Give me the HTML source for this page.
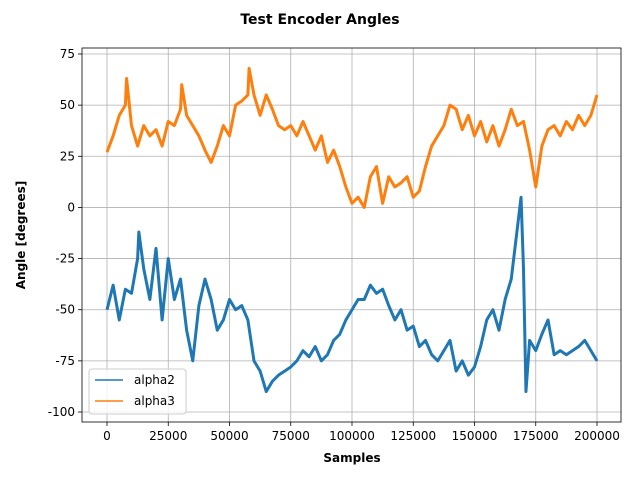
<!DOCTYPE html>
<html><head><meta charset="utf-8"><style>
body{margin:0;background:#fff;font-family:"Liberation Sans","DejaVu Sans",sans-serif}
svg text{font-family:"DejaVu Sans","Liberation Sans",sans-serif}
</style></head><body>
<svg id="chart" width="640" height="480" xmlns="http://www.w3.org/2000/svg"></svg>
<script>
const xTicks=[0,25000,50000,75000,100000,125000,150000,175000,200000];
const yTicks=[75,50,25,0,-25,-50,-75,-100];
const alpha3X=[0,2500,5000,7500,8000,10000,12500,15000,17500,20000,22500,25000,27500,30000,30500,32500,35000,37500,40000,42500,45000,47500,50000,52500,55000,57500,58000,60000,62500,65000,67500,70000,72500,75000,77500,80000,82500,85000,87500,90000,92500,95000,97500,100000,102500,105000,107500,110000,112500,115000,117500,120000,122500,125000,127500,130000,132500,135000,137500,140000,142500,145000,147500,150000,152500,155000,157500,160000,162500,165000,167500,170000,172500,175000,177500,180000,182500,185000,187500,190000,192500,195000,197500,200000];
const alpha3Y=[27,35,45,50,63,40,30,40,35,38,30,42,40,48,60,45,40,35,28,22,30,40,35,50,52,55,68,55,45,55,48,40,38,40,35,42,35,28,35,22,28,20,10,2,5,0,15,20,2,15,10,12,15,5,8,20,30,35,40,50,48,38,45,35,42,32,40,30,38,48,40,42,28,10,30,38,40,35,42,38,45,40,45,55];
const alpha2X=[0,2500,5000,7500,10000,12500,13000,15000,17500,20000,22500,25000,27500,30000,32500,35000,37500,40000,42500,45000,47500,50000,52500,55000,57500,60000,62500,65000,67500,70000,72500,75000,77500,80000,82500,85000,87500,90000,92500,95000,97500,100000,102500,105000,107500,110000,112500,115000,117500,120000,122500,125000,127500,130000,132500,135000,137500,140000,142500,145000,147500,150000,152500,155000,157500,160000,162500,165000,167500,169000,170000,171000,172500,175000,177500,180000,182500,185000,187500,190000,192500,195000,197500,200000];
const alpha2Y=[-50,-38,-55,-40,-42,-25,-12,-30,-45,-20,-55,-25,-45,-35,-60,-75,-48,-35,-45,-60,-55,-45,-50,-48,-55,-75,-80,-90,-85,-82,-80,-78,-75,-70,-73,-68,-75,-72,-65,-62,-55,-50,-45,-45,-38,-42,-40,-48,-55,-50,-60,-58,-68,-65,-72,-75,-70,-65,-80,-75,-82,-78,-68,-55,-50,-60,-45,-35,-10,5,-30,-90,-65,-70,-62,-55,-72,-70,-72,-70,-68,-65,-70,-75];
const NS="http://www.w3.org/2000/svg";
const svg=document.getElementById('chart');
const L=82,T=48,R=621,B=422;
const sx=v=>107+v*490/200000;
const sy=v=>54+(75-v)*358/175;
function mk(tag,attrs,parent){const e=document.createElementNS(NS,tag);for(const k in attrs)e.setAttribute(k,attrs[k]);(parent||svg).appendChild(e);return e;}
xTicks.forEach(v=>{
 const g=mk('line',{x1:sx(v),x2:sx(v),y1:T,y2:B,stroke:'#b0b0b0','stroke-width':0.8});
 
 
 mk('line',{x1:sx(v),x2:sx(v),y1:B,y2:B+4,stroke:'#000','stroke-width':0.8});
 const lb=mk('text',{x:sx(v),y:B+18,'text-anchor':'middle','font-size':'12'});
 lb.textContent=String(v);
 
 
});
yTicks.forEach(v=>{
 const g=mk('line',{x1:L,x2:R,y1:sy(v),y2:sy(v),stroke:'#b0b0b0','stroke-width':0.8});
 
 
 mk('line',{x1:L-4,x2:L,y1:sy(v),y2:sy(v),stroke:'#000','stroke-width':0.8});
 const lb=mk('text',{x:L-7,y:sy(v)+4,'text-anchor':'end','font-size':'12'});
 lb.textContent=String(v);
 
 
});
function series(xs,ys,color,name){
 const p=mk('polyline',{points:xs.map((x,i)=>sx(x)+','+sy(ys[i])).join(' '),fill:'none',stroke:color,'stroke-width':3,'stroke-linejoin':'round'});
 
 
}
series(alpha2X,alpha2Y,'#1f77b4','alpha2-line');
series(alpha3X,alpha3Y,'#ff7f0e','alpha3-line');
const frame=mk('rect',{x:L,y:T,width:R-L,height:B-T,fill:'none',stroke:'#000','stroke-width':0.8});


const title=mk('text',{x:320,y:24,'text-anchor':'middle','font-size':'14','font-weight':'bold'});
title.textContent='Test Encoder Angles';


const xl=mk('text',{x:352,y:462,'text-anchor':'middle','font-size':'12','font-weight':'bold'});
xl.textContent='Samples';


const yl=mk('text',{x:25,y:235,'text-anchor':'middle','font-size':'12','font-weight':'bold',transform:'rotate(-90 25 235)'});
yl.textContent='Angle [degrees]';


const lg=mk('g',{});


mk('rect',{x:89,y:369,width:97,height:45,rx:3,fill:'#fff','fill-opacity':0.8,stroke:'#ccc'},lg);
[['alpha2','#1f77b4',384],['alpha3','#ff7f0e',405]].forEach(([n,c,y])=>{
 const e=mk('g',{},lg);
 
 
 mk('line',{x1:95,x2:123,y1:y-4,y2:y-4,stroke:c,'stroke-width':1.5},e);
 const t=mk('text',{x:134,y:y,'font-size':'12'},e);t.textContent=n;
});
</script>
</body></html>
